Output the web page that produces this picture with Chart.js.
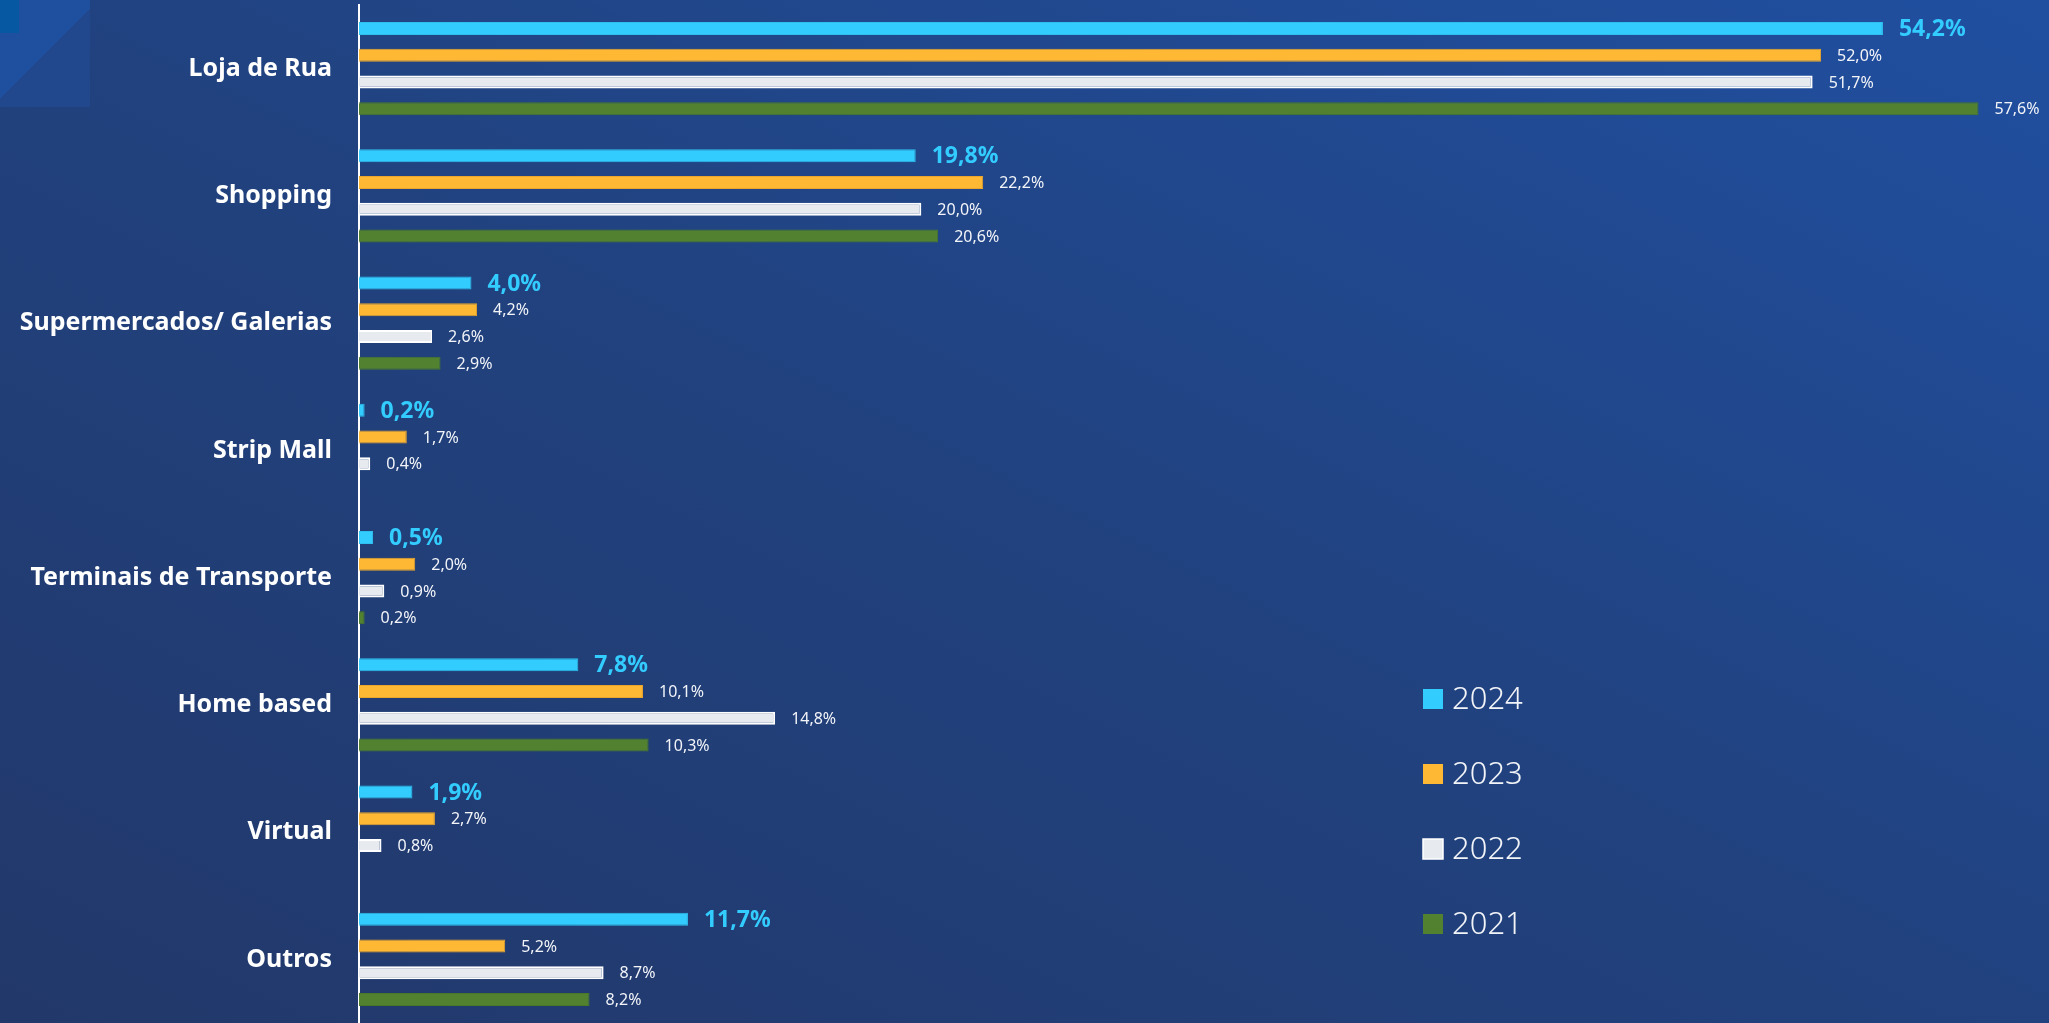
<!DOCTYPE html>
<html>
<head>
<meta charset="utf-8">
<script src="https://cdn.jsdelivr.net/npm/chart.js@4.4.1/dist/chart.umd.min.js"></script>
<style>
    html, body {
        margin: 0;
        padding: 0;
        overflow: hidden;
    }
    body {
        width: 2049px;
        height: 1023px;
        background: linear-gradient(to bottom left, #204fa0 0%, #21427f 50%, #22386a 100%);
        position: relative;
    }
    .deco {
        position: absolute;
        left: 0;
        top: 0;
        width: 90px;
        height: 107px;
        background: linear-gradient(135deg, #1f50a0 0%, #1f50a0 50%, #21478c 50%, #21478c 100%);
    }
    .deco-small {
        position: absolute;
        left: 0;
        top: 0;
        width: 19px;
        height: 33px;
        background: #0758a2;
    }
    .wrap {
        position: absolute;
        left: 0;
        top: 0;
        width: 2049px;
        height: 1023px;
    }
</style>
</head>
<body>
<div class="deco"></div>
<div class="deco-small"></div>
<div class="wrap"><canvas id="chart"></canvas></div>
<script>
const categories = [
    "Loja de Rua",
    "Shopping",
    "Supermercados/ Galerias",
    "Strip Mall",
    "Terminais de Transporte",
    "Home based",
    "Virtual",
    "Outros",
]

const years = ["2024", "2023", "2022", "2021"]

const values2024 = [54.2, 19.8, 4.0, 0.2, 0.5, 7.8, 1.9, 11.7]
const values2023 = [52.0, 22.2, 4.2, 1.7, 2.0, 10.1, 2.7, 5.2]
const values2022 = [51.7, 20.0, 2.6, 0.4, 0.9, 14.8, 0.8, 8.7]
const values2021 = [57.6, 20.6, 2.9, null, 0.2, 10.3, null, 8.2]

const fillColors = ["#33ccff", "#ffb833", "#e7ebf0", "#52822f"]
const edgeColors = ["#2fbfee", "#e9a52c", "#ffffff", "#4a7829"]

const allValues = [values2024, values2023, values2022, values2021]

const fmt = (v) => v.toFixed(1).replace(".", ",") + "%"

// value labels at the end of each bar
const barLabels = {
    id: "barLabels",
    afterDatasetsDraw(chart) {
        const ctx = chart.ctx
        ctx.save()
        ctx.textAlign = "left"
        ctx.textBaseline = "middle"
        chart.data.datasets.forEach((ds, i) => {
            const meta = chart.getDatasetMeta(i)
            meta.data.forEach((bar, j) => {
                const v = ds.data[j]
                if (v === null || v === undefined) return
                if (i === 0) {
                    ctx.font = "700 23px 'Noto Sans'"
                    ctx.fillStyle = "#33ccff"
                } else {
                    ctx.font = "400 16px 'Noto Sans'"
                    ctx.fillStyle = "#f2f4f8"
                }
                ctx.fillText(fmt(v), bar.x + 16, bar.y + 1)
            })
        })
        ctx.restore()
    },
}

// legend drawn on the right side, one row per year
const sideLegend = {
    id: "sideLegend",
    afterDraw(chart) {
        const ctx = chart.ctx
        ctx.save()
        ctx.textAlign = "left"
        ctx.textBaseline = "middle"
        ctx.font = "300 31px 'Noto Sans'"
        chart.data.datasets.forEach((ds, i) => {
            const y = 699 + i * 75
            ctx.fillStyle = ds.backgroundColor
            ctx.fillRect(1423, y - 10, 20, 20)
            if (i === 2) {
                ctx.strokeStyle = "#ffffff"
                ctx.lineWidth = 1.5
                ctx.strokeRect(1423, y - 10, 20, 20)
            }
            ctx.fillStyle = "#f2f4f8"
            ctx.fillText(ds.label, 1452, y + 1)
        })
        ctx.restore()
    },
}

const datasets = years.map((year, i) => ({
    label: year,
    data: allValues[i],
    backgroundColor: fillColors[i],
    borderColor: edgeColors[i],
    borderWidth: i === 2 ? 2 : 1,
    categoryPercentage: 0.84,
    barPercentage: 0.49,
}))

new Chart(document.getElementById("chart"), {
    type: "bar",
    data: {
        labels: categories,
        datasets,
    },
    options: {
        indexAxis: "y",
        responsive: true,
        maintainAspectRatio: false,
        animation: false,
        layout: {
            padding: { top: 5, bottom: -3, left: 0, right: 3 },
        },
        plugins: {
            legend: { display: false },
            tooltip: { enabled: false },
        },
        scales: {
            x: {
                display: false,
                min: 0,
                max: 60,
            },
            y: {
                afterFit(scale) {
                    scale.width = 359
                    scale.paddingTop = 0
                    scale.paddingBottom = 0
                },
                grid: { display: false, drawTicks: false },
                border: { display: true, color: "#ffffff", width: 2 },
                ticks: {
                    padding: 27,
                    color: "#ffffff",
                    font: { family: "'Noto Sans'", size: 25, weight: "700" },
                },
            },
        },
    },
    plugins: [barLabels, sideLegend],
})
</script>
</body>
</html>
